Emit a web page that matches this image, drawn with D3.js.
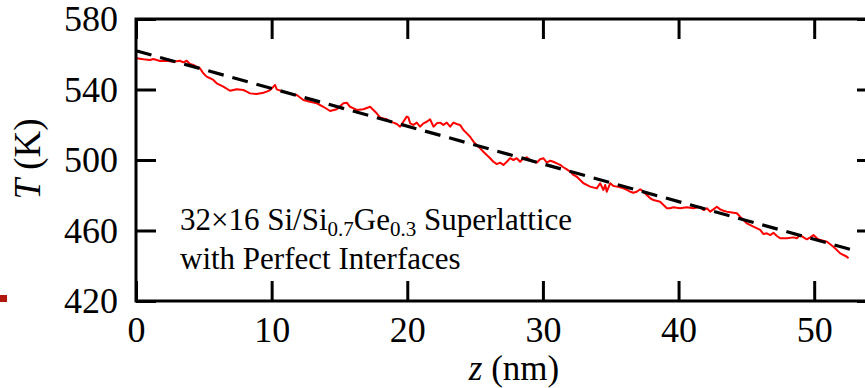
<!DOCTYPE html>
<html>
<head>
<meta charset="utf-8">
<script src="https://cdn.jsdelivr.net/npm/d3@7"></script>
<style>
  html, body { margin: 0; padding: 0; background: #fff; overflow: hidden; }
  svg { display: block; font-family: "Liberation Serif", "Times New Roman", serif; }
</style>
</head>
<body>
<svg id="chart" width="865" height="388"></svg>
<script>
// simulated temperature profile (red)
var zNm = [0.05, 0.54, 1.03, 1.28, 1.77, 2.26, 2.75, 3.24, 3.49, 3.74, 3.98, 4.23, 4.47, 4.72, 4.96,
    5.21, 5.46, 5.70, 5.95, 6.44, 6.93, 7.43, 7.91, 8.16, 8.41, 8.90, 9.39, 9.64, 9.88, 10.13, 10.25,
    10.38, 10.86, 11.36, 11.85, 12.34, 12.83, 13.33, 13.81, 14.31, 14.80, 15.29, 15.54, 15.78, 16.28,
    16.76, 17.26, 17.50, 17.75, 17.99, 18.24, 18.49, 18.73, 18.98, 19.23, 19.47, 19.71, 19.96, 20.08,
    20.21, 20.45, 20.70, 20.94, 21.19, 21.44, 21.68, 21.93, 22.18, 22.42, 22.66, 22.91, 23.16, 23.40,
    23.65, 23.89, 24.14, 24.39, 24.63, 24.88, 25.12, 25.37, 25.61, 25.86, 26.11, 26.35, 26.60, 26.84,
    27.09, 27.34, 27.58, 27.82, 28.07, 28.32, 28.56, 28.81, 29.06, 29.30, 29.55, 29.79, 30.04, 30.29,
    30.53, 30.77, 31.02, 31.27, 31.51, 31.76, 32.01, 32.25, 32.50, 32.99, 33.48, 33.97, 34.22, 34.46,
    34.59, 34.71, 34.96, 35.20, 35.45, 35.69, 35.94, 36.19, 36.43, 36.67, 36.92, 37.17, 37.41, 37.66,
    37.91, 38.15, 38.64, 38.89, 39.14, 39.38, 39.62, 40.12, 40.61, 41.10, 41.59, 41.84, 42.09, 42.33,
    42.57, 42.82, 43.07, 43.31, 43.56, 44.05, 44.30, 44.54, 44.79, 45.04, 45.52, 46.02, 46.26, 46.51,
    46.76, 47.00, 47.25, 47.49, 47.99, 48.47, 48.72, 48.97, 49.21, 49.46, 49.71, 49.95, 50.20, 50.44,
    50.94, 51.42, 51.92, 52.41, 52.53];

var tempK = [557.7, 557.1, 556.7, 557.3, 556.2, 556.3, 555.8, 556.3, 555.4, 556.3, 554.5, 553.9, 552.9, 552.0, 549.2,
    547.3, 546.4, 545.4, 543.5, 541.6, 539.3, 540.1, 539.7, 538.8, 537.8, 537.4, 538.2, 538.8, 539.7, 541.6, 542.6,
    540.1, 538.8, 537.8, 536.9, 534.0, 533.1, 532.2, 530.2, 527.8, 528.8, 532.2, 532.5, 530.2, 528.4,
    528.8, 530.2, 528.4, 526.5, 524.2, 523.6, 523.1, 521.7, 521.2, 520.4, 518.9, 521.7, 524.6, 524.2,
    520.8, 519.9, 521.2, 518.9, 520.8, 521.7, 523.1, 518.9, 520.8, 521.2, 519.9, 521.2, 518.9, 521.2,
    520.4, 519.9, 517.0, 515.1, 513.2, 510.4, 508.5, 506.6, 504.7, 502.8, 501.0, 499.0, 497.7, 498.5,
    497.2, 499.0, 501.0, 500.0, 501.0, 499.0, 501.0, 501.5, 500.0, 499.0, 498.5, 500.4, 501.0, 498.5,
    499.6, 499.0, 498.1, 497.2, 495.9, 494.7, 493.4, 491.5, 490.5, 486.8, 484.9, 483.9, 486.8, 483.0,
    485.8, 482.0, 486.8, 485.2, 484.9, 484.5, 483.9, 483.0, 482.0, 481.4, 482.0, 483.4, 482.0, 480.1,
    478.3, 477.3, 476.3, 474.5, 472.6, 472.6, 473.2, 472.6, 473.2, 472.6, 473.5, 471.6, 472.6, 470.7,
    472.0, 473.5, 472.0, 471.2, 470.7, 470.1, 469.8, 467.8, 465.9, 464.0, 462.2, 460.3, 458.0, 458.4,
    457.4, 458.7, 456.9, 455.6, 455.6, 456.1, 455.6, 457.4, 456.1, 455.0, 456.1, 457.4, 455.6, 454.6,
    453.6, 450.8, 447.0, 445.1, 444.2];

// linear fit (dashed)
var fitZ = [0, 52.8];
var fitT = [562, 449];

var xTicks = [0, 10, 20, 30, 40, 50];
var yTicks = [420, 460, 500, 540, 580];

var svg = d3.select("#chart");

var margin = {top: 19, left: 136, bottom: 301, right: 877};

var x = d3.scaleLinear().domain([0, 54.63]).range([margin.left, margin.right]);
var y = d3.scaleLinear().domain([420, 580]).range([margin.bottom, margin.top]);

// little red mark on the left edge of the slide
svg.append("rect")
    .attr("x", 0).attr("y", 295)
    .attr("width", 7).attr("height", 7)
    .attr("fill", "#b0180c");

var line = d3.line()
    .x(function(d) { return x(d[0]); })
    .y(function(d) { return y(d[1]); });

svg.append("path")
    .datum(d3.zip(zNm, tempK))
    .attr("fill", "none")
    .attr("stroke", "#ff0000")
    .attr("stroke-width", 2)
    .attr("stroke-linejoin", "round")
    .attr("d", line);

svg.append("path")
    .datum(d3.zip(fitZ, fitT))
    .attr("fill", "none")
    .attr("stroke", "#000")
    .attr("stroke-width", 3.2)
    .attr("stroke-dasharray", "16,9")
    .attr("d", line);

function styleAxis(g) {
    g.select(".domain").remove();
    g.selectAll(".tick line").attr("stroke", "#000").attr("stroke-width", 3);
    g.selectAll(".tick text")
        .attr("fill", "#000")
        .style("font-size", "36px")
        .style("font-family", "'Liberation Serif', 'Times New Roman', serif");
}

svg.append("g")
    .attr("transform", "translate(0," + margin.bottom + ")")
    .call(d3.axisBottom(x).tickValues(xTicks).tickSize(-20).tickPadding(15))
    .call(styleAxis);

svg.append("g")
    .attr("transform", "translate(0," + margin.top + ")")
    .call(d3.axisTop(x).tickValues(xTicks).tickSize(-20).tickFormat(""))
    .call(styleAxis);

svg.append("g")
    .attr("transform", "translate(" + margin.left + ",0)")
    .call(d3.axisLeft(y).tickValues(yTicks).tickSize(-20).tickPadding(18))
    .call(styleAxis)
    .selectAll(".tick text").attr("dy", "0.33em");

svg.append("g")
    .attr("transform", "translate(" + margin.right + ",0)")
    .call(d3.axisRight(y).tickValues(yTicks).tickSize(-20).tickFormat(""))
    .call(styleAxis);

// frame
svg.append("rect")
    .attr("x", margin.left).attr("y", margin.top)
    .attr("width", margin.right - margin.left)
    .attr("height", margin.bottom - margin.top)
    .attr("fill", "none")
    .attr("stroke", "#000")
    .attr("stroke-width", 3);

// axis titles
var xt = svg.append("text")
    .attr("x", 514).attr("y", 380)
    .attr("text-anchor", "middle")
    .style("font-size", "35px");
xt.append("tspan").style("font-style", "italic").text("z");
xt.append("tspan").text(" (nm)");

var yt = svg.append("text")
    .attr("transform", "translate(40,159) rotate(-90)")
    .attr("text-anchor", "middle")
    .style("font-size", "37px");
yt.append("tspan").style("font-style", "italic").text("T");
yt.append("tspan").text(" (K)");

// annotation
var note = svg.append("text")
    .attr("x", 180).attr("y", 230)
    .style("font-size", "31px");
note.append("tspan").text("32×16 Si/Si");
note.append("tspan").attr("dy", 6).style("font-size", "21px").text("0.7");
note.append("tspan").attr("dy", -6).text("Ge");
note.append("tspan").attr("dy", 6).style("font-size", "21px").text("0.3");
note.append("tspan").attr("dy", -6).text(" Superlattice");

svg.append("text")
    .attr("x", 180).attr("y", 269)
    .style("font-size", "31px")
    .text("with Perfect Interfaces");
</script>
</body>
</html>
